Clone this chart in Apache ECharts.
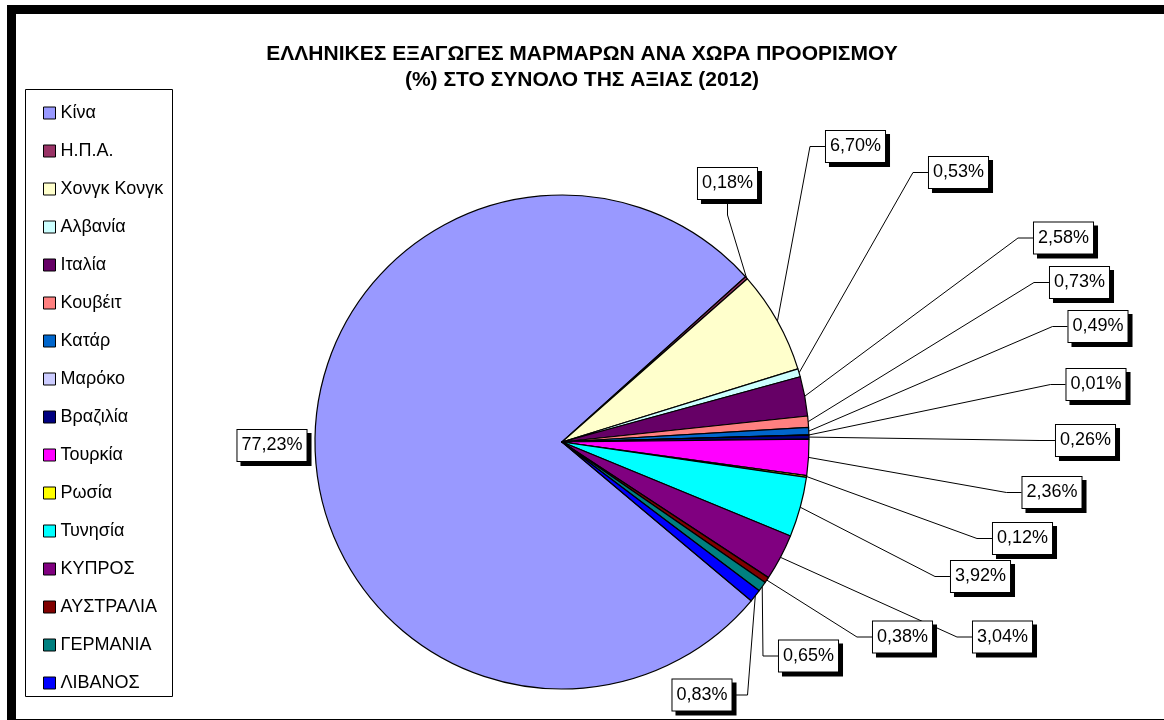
<!DOCTYPE html>
<html>
<head>
<meta charset="utf-8">
<script src="https://cdn.jsdelivr.net/npm/echarts@6/dist/echarts.min.js"></script>
<style>
html, body { margin: 0; padding: 0; background: #fff; }
#chart { width: 1164px; height: 720px; }
</style>
</head>
<body>
<div id="chart"></div>
<script>
// destination countries, in slice order
const countries = ['Κίνα', 'Η.Π.Α.', 'Χονγκ Κονγκ', 'Αλβανία', 'Ιταλία', 'Κουβέιτ', 'Κατάρ', 'Μαρόκο',
  'Βραζιλία', 'Τουρκία', 'Ρωσία', 'Τυνησία', 'ΚΥΠΡΟΣ', 'ΑΥΣΤΡΑΛΙΑ', 'ΓΕΡΜΑΝΙΑ', 'ΛΙΒΑΝΟΣ'];
// share of total export value (%), 2012
const shares = [77.23, 0.18, 6.70, 0.53, 2.58, 0.73, 0.49, 0.01, 0.26, 2.36, 0.12, 3.92, 3.04, 0.38, 0.65, 0.83];
const sliceColors = ['#9999FF', '#993366', '#FFFFCC', '#CCFFFF', '#660066', '#FF8080', '#0066CC', '#CCCCFF',
  '#000080', '#FF00FF', '#FFFF00', '#00FFFF', '#800080', '#800000', '#008080', '#0000FF'];

// where each value box sits and which side its leader line joins
const labelBoxes = [
  [272, 445.5, 'none'], [727.5, 183.5, 'b'], [855.5, 146.5, 'l'], [958.5, 172.5, 'l'],
  [1063.5, 238, 'l'], [1079.5, 282.5, 'l'], [1098, 326.5, 'l'], [1096, 384.5, 'l'],
  [1085.5, 440.5, 'l'], [1052, 492.5, 'l'], [1022.5, 538.5, 'l'], [980.5, 576.5, 'l'],
  [1002.5, 637, 'l'], [902.5, 637, 'l'], [808.5, 656, 'l'], [702, 695, 'r']
];

const font = '"Liberation Sans", Arial, sans-serif';

const chart = echarts.init(document.getElementById('chart'));

const option = {
  animation: false,
  backgroundColor: '#fff',
  title: {
    text: 'ΕΛΛΗΝΙΚΕΣ ΕΞΑΓΩΓΕΣ ΜΑΡΜΑΡΩΝ ΑΝΑ ΧΩΡΑ ΠΡΟΟΡΙΣΜΟΥ\n(%) ΣΤΟ ΣΥΝΟΛΟ ΤΗΣ ΑΞΙΑΣ (2012)',
    left: 'center',
    top: 36,
    textStyle: { fontFamily: font, fontSize: 21, fontWeight: 'bold', color: '#000', lineHeight: 26 }
  },
  graphic: [
    { type: 'rect', shape: { x: 11.5, y: 9.5, width: 1160, height: 714 }, style: { fill: null, stroke: '#000', lineWidth: 9 }, silent: true },
    { type: 'rect', shape: { x: 25.5, y: 89.5, width: 147, height: 607 }, style: { fill: null, stroke: '#000', lineWidth: 1 }, silent: true }
  ],
  legend: {
    orient: 'vertical',
    left: 38,
    top: 99,
    itemWidth: 12,
    itemHeight: 12,
    itemGap: 20,
    icon: 'rect',
    selectedMode: false,
    itemStyle: { borderColor: '#000', borderWidth: 1 },
    textStyle: { fontFamily: font, fontSize: 18, lineHeight: 18, color: '#000' },
    data: countries
  },
  series: [{
    type: 'pie',
    center: [562, 442],
    radius: 247,
    startAngle: 320,
    clockwise: true,
    avoidLabelOverlap: false,
    emphasis: { disabled: true },
    itemStyle: { borderColor: '#000', borderWidth: 1.2 },
    label: {
      show: true,
      position: 'outside',
      formatter: p => p.value.toFixed(2).replace('.', ',') + '%',
      fontFamily: font,
      fontSize: 18,
      lineHeight: 18,
      color: '#000',
      backgroundColor: '#fff',
      borderColor: '#000',
      borderWidth: 1,
      padding: [7, 4, 6, 4],
      shadowColor: '#000',
      shadowBlur: 0,
      shadowOffsetX: 4,
      shadowOffsetY: 4
    },
    labelLine: { show: true, lineStyle: { color: '#000', width: 1 } },
    labelLayout: function (params) {
      const b = labelBoxes[params.dataIndex];
      const w = params.labelRect.width;
      const h = params.labelRect.height;
      const cx = b[0], cy = b[1];
      const p0 = params.labelLinePoints ? params.labelLinePoints[0] : [cx, cy];
      let pts;
      if (b[2] === 'l') pts = [p0, [cx - w / 2 - 15, cy], [cx - w / 2, cy]];
      else if (b[2] === 'r') pts = [p0, [cx + w / 2 + 15, cy], [cx + w / 2, cy]];
      else if (b[2] === 'b') pts = [p0, [cx, cy + h / 2 + 15], [cx, cy + h / 2]];
      else pts = [[cx, cy], [cx, cy], [cx, cy]];
      return { x: cx, y: cy, align: 'center', verticalAlign: 'middle', labelLinePoints: pts };
    },
    data: countries.map((name, i) => ({ name: name, value: shares[i], itemStyle: { color: sliceColors[i] } }))
  }]
};

chart.setOption(option);
</script>
</body>
</html>
